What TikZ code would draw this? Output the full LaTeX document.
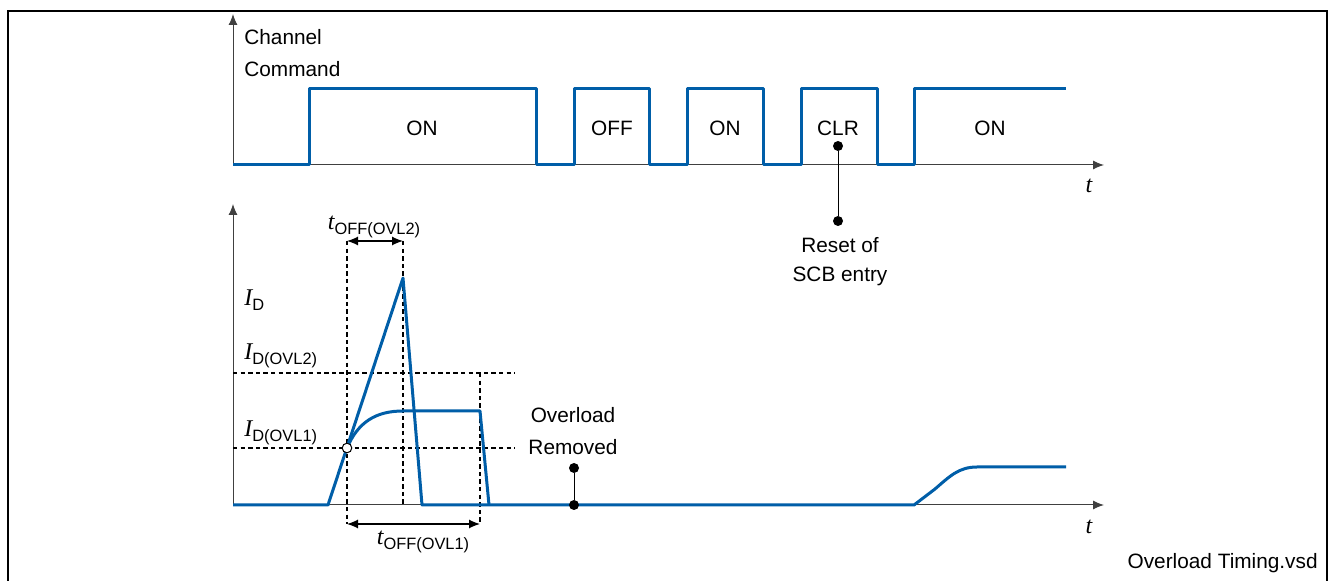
\documentclass[tikz,border=0pt]{standalone}
\usepackage{fontspec}
\setmainfont{Liberation Sans}
\newfontfamily\serifit{Liberation Serif}
\usetikzlibrary{positioning,arrows.meta}
\tikzset{>={Latex[length=5.5pt,width=4.5pt]}}
\definecolor{sigblue}{RGB}{0,94,168}
\tikzset{
  axis/.style={->,draw=black!75,line width=0.5pt},
  signal/.style={draw=sigblue,line width=1.5pt,line join=round},
  guide/.style={draw=black,line width=0.65pt,dash pattern=on 2.2pt off 1.6pt},
  dimline/.style={<->,line width=0.6pt},
  txt/.style={font=\fontsize{10.4}{12}\selectfont,inner sep=0pt},
  dot/.style={circle,fill=black,inner sep=0pt,minimum size=5pt},
  hollow/.style={circle,draw=black,fill=white,line width=0.5pt,inner sep=0pt,minimum size=4.8pt}
}
\newcommand{\tsub}[2]{{\fontsize{12}{12}\serifit\itshape #1}\raisebox{-2.2pt}{\fontsize{8.2}{9}\selectfont #2}}

\begin{document}
\begin{tikzpicture}[x=0.5pt,y=-0.5pt]
\useasboundingbox (0,0) rectangle (1331,581);
\draw [line width=1pt] (7.5,581) -- (7.5,11) -- (1327,11) -- (1327,581);

% channel command
\coordinate (o1) at (233,165);
\coordinate (y1) at (233,14);
\coordinate (x1) at (1104,165);
\draw [axis] (o1) -- (y1);
\draw [axis] (o1) -- (x1);
\node [txt,anchor=west] (chan) at (244,37) {Channel};
\node [txt,anchor=west] (cmd) at (244,69) {Command};
\node [txt] (t1) at (1089,186) {\fontsize{12}{12}\serifit\itshape t};
\draw [signal] (233,165) -- (309,165) -- (309,89) -- (536,89) -- (536,165) -- (574,165)
  -- (574,89) -- (649,89) -- (649,165) -- (687,165) -- (687,89) -- (763,89) -- (763,165)
  -- (801,165) -- (801,89) -- (877,89) -- (877,165) -- (914,165) -- (914,89) -- (1066,89);
\node [txt] (on1) at (422,128) {ON};
\node [txt] (off) at (612,128) {OFF};
\node [txt] (on2) at (725,128) {ON};
\node [txt] (clr) at (838,128) {CLR};
\node [txt] (on3) at (990,128) {ON};
\node [dot] (clrdot) at (838,146) {};
\node [dot] (rstdot) at (838,221) {};
\draw [line width=0.5pt] (clrdot) -- (rstdot);
\node [txt] (rst) at (840,245) {Reset of};
\node [txt] (scb) at (840,276) {SCB entry};

% drain current
\coordinate (o2) at (233,505);
\coordinate (y2) at (233,204);
\coordinate (x2) at (1104,505);
\draw [axis] (o2) -- (y2);
\draw [axis] (o2) -- (x2);
\node [txt] (t2) at (1089,527) {\fontsize{12}{12}\serifit\itshape t};
\node [txt,anchor=west] (id) at (244,300) {\tsub{I}{D}};
\node [txt,anchor=west] (id2) at (244,356) {\tsub{I}{D(OVL2)}};
\node [txt,anchor=west] (id1) at (244,433) {\tsub{I}{D(OVL1)}};

\coordinate (a1) at (347,241);
\coordinate (a2) at (403,241);
\coordinate (b1) at (347,524);
\coordinate (b2) at (480,524);
\coordinate (h2l) at (233,373);
\coordinate (h2r) at (515,373);
\coordinate (h1l) at (233,448);
\coordinate (h1r) at (515,448);
\coordinate (pk) at (403,505);
\coordinate (c2) at (480,373);
\draw [guide] (h2l) -- (h2r);
\draw [guide] (h1l) -- (h1r);
\draw [guide] (a1) -- (b1);
\draw [guide] (a2) -- (pk);
\draw [guide] (c2) -- (b2);
\draw [dimline] (a1) -- (a2);
\draw [dimline] (b1) -- (b2);
\node [txt] (toff2) at (374,227) {\tsub{t}{OFF(OVL2)}};
\node [txt] (toff1) at (423,542) {\tsub{t}{OFF(OVL1)}};

\draw [signal] (233,505) -- (328,505) -- (403,278) -- (422,505) -- (914,505) -- (935,489)
  .. controls (950,476) and (959,467) .. (977,467) -- (1066,467);
\draw [signal] (347,448) .. controls (358,422) and (376,411) .. (403,411) -- (480,411) -- (489,505);
\node [hollow] (cross) at (347,448) {};

\node [txt] (ovl) at (573,415) {Overload};
\node [txt] (rem) at (573,447) {Removed};
\node [dot] (remtop) at (574,468) {};
\node [dot] (rembot) at (574,505) {};
\draw [line width=0.5pt] (remtop) -- (rembot);

\node [txt,anchor=east] (file) at (1318,563) {Overload Timing.vsd};
\end{tikzpicture}
\end{document}
